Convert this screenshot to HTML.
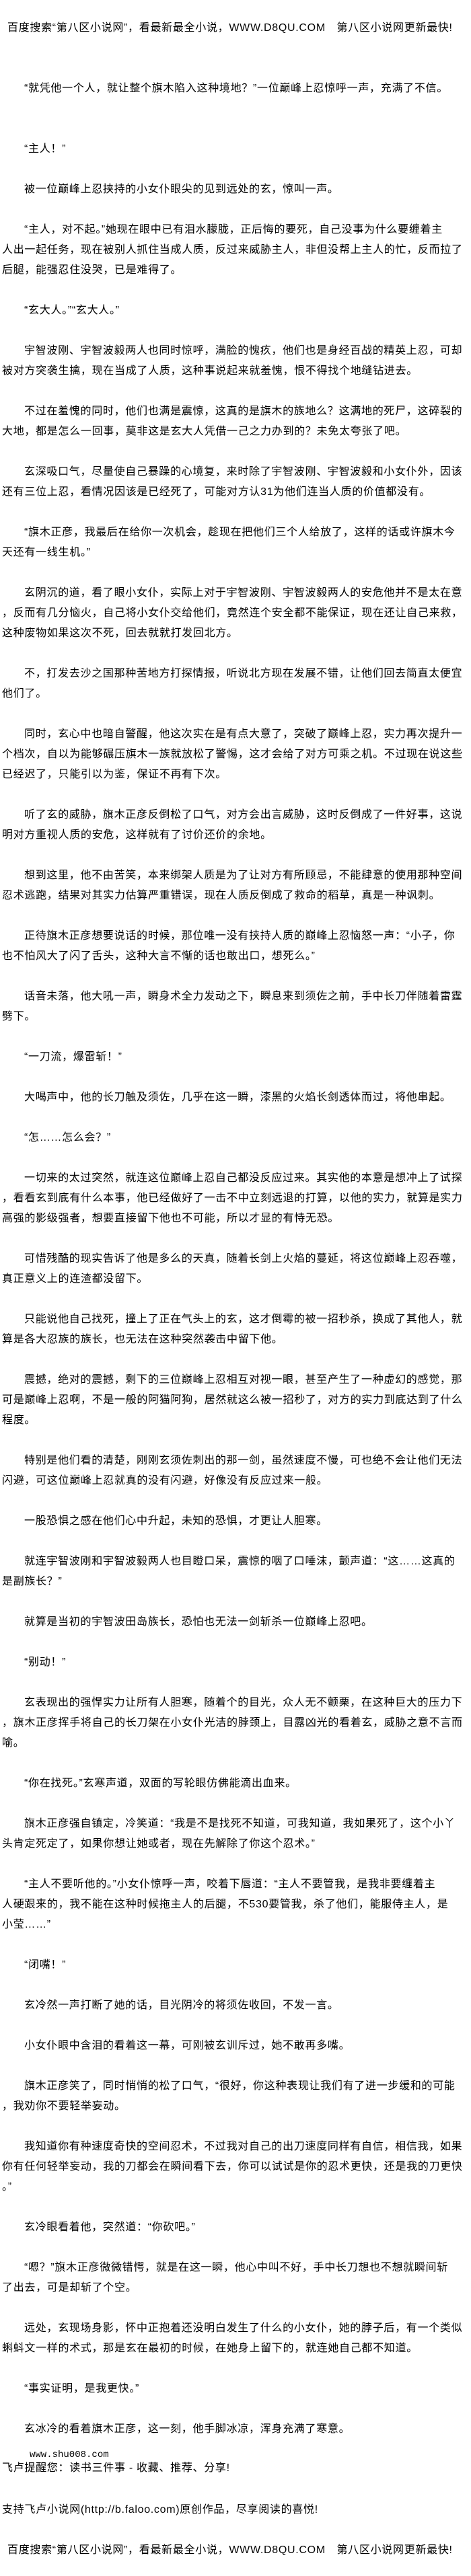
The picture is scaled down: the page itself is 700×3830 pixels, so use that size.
<!DOCTYPE html>
<html><head><meta charset="utf-8"><style>
html,body{margin:0;padding:0;background:#fff;}
body{width:700px;height:3830px;position:relative;overflow:hidden;font-family:"Liberation Sans","Noto Sans CJK SC",sans-serif;font-size:16px;letter-spacing:0.7px;color:#000;}
.l{position:absolute;left:3px;height:30px;line-height:30px;white-space:nowrap;}
.i{left:36px;}
</style></head><body>
<div class="l" style="left:11px;top:27px">百度搜索“第八区小说网”，看最新最全小说，WWW.D8QU.COM　第八区小说网更新最快!</div>
<div class="l i" style="top:117px">“就凭他一个人，就让整个旗木陷入这种境地？”一位巅峰上忍惊呼一声，充满了不信。</div>
<div class="l i" style="top:207px">“主人！”</div>
<div class="l i" style="top:267px">被一位巅峰上忍挟持的小女仆眼尖的见到远处的玄，惊叫一声。</div>
<div class="l i" style="top:327px">“主人，对不起。”她现在眼中已有泪水朦胧，正后悔的要死，自己没事为什么要缠着主</div>
<div class="l" style="top:357px">人出一起任务，现在被别人抓住当成人质，反过来威胁主人，非但没帮上主人的忙，反而拉了</div>
<div class="l" style="top:387px">后腿，能强忍住没哭，已是难得了。</div>
<div class="l i" style="top:447px">“玄大人。”“玄大人。”</div>
<div class="l i" style="top:507px">宇智波刚、宇智波毅两人也同时惊呼，满脸的愧疚，他们也是身经百战的精英上忍，可却</div>
<div class="l" style="top:537px">被对方突袭生擒，现在当成了人质，这种事说起来就羞愧，恨不得找个地缝钻进去。</div>
<div class="l i" style="top:597px">不过在羞愧的同时，他们也满是震惊，这真的是旗木的族地么？这满地的死尸，这碎裂的</div>
<div class="l" style="top:627px">大地，都是怎么一回事，莫非这是玄大人凭借一己之力办到的？未免太夸张了吧。</div>
<div class="l i" style="top:687px">玄深吸口气，尽量使自己暴躁的心境复，来时除了宇智波刚、宇智波毅和小女仆外，因该</div>
<div class="l" style="top:717px">还有三位上忍，看情况因该是已经死了，可能对方认31为他们连当人质的价值都没有。</div>
<div class="l i" style="top:777px">“旗木正彦，我最后在给你一次机会，趁现在把他们三个人给放了，这样的话或许旗木今</div>
<div class="l" style="top:807px">天还有一线生机。”</div>
<div class="l i" style="top:867px">玄阴沉的道，看了眼小女仆，实际上对于宇智波刚、宇智波毅两人的安危他并不是太在意</div>
<div class="l" style="top:897px">，反而有几分恼火，自己将小女仆交给他们，竟然连个安全都不能保证，现在还让自己来救，</div>
<div class="l" style="top:927px">这种废物如果这次不死，回去就就打发回北方。</div>
<div class="l i" style="top:987px">不，打发去沙之国那种苦地方打探情报，听说北方现在发展不错，让他们回去简直太便宜</div>
<div class="l" style="top:1017px">他们了。</div>
<div class="l i" style="top:1077px">同时，玄心中也暗自警醒，他这次实在是有点大意了，突破了巅峰上忍，实力再次提升一</div>
<div class="l" style="top:1107px">个档次，自以为能够碾压旗木一族就放松了警惕，这才会给了对方可乘之机。不过现在说这些</div>
<div class="l" style="top:1137px">已经迟了，只能引以为鉴，保证不再有下次。</div>
<div class="l i" style="top:1197px">听了玄的威胁，旗木正彦反倒松了口气，对方会出言威胁，这时反倒成了一件好事，这说</div>
<div class="l" style="top:1227px">明对方重视人质的安危，这样就有了讨价还价的余地。</div>
<div class="l i" style="top:1287px">想到这里，他不由苦笑，本来绑架人质是为了让对方有所顾忌，不能肆意的使用那种空间</div>
<div class="l" style="top:1317px">忍术逃跑，结果对其实力估算严重错误，现在人质反倒成了救命的稻草，真是一种讽刺。</div>
<div class="l i" style="top:1377px">正待旗木正彦想要说话的时候，那位唯一没有挟持人质的巅峰上忍恼怒一声：“小子，你</div>
<div class="l" style="top:1407px">也不怕风大了闪了舌头，这种大言不惭的话也敢出口，想死么。”</div>
<div class="l i" style="top:1467px">话音未落，他大吼一声，瞬身术全力发动之下，瞬息来到须佐之前，手中长刀伴随着雷霆</div>
<div class="l" style="top:1497px">劈下。</div>
<div class="l i" style="top:1557px">“一刀流，爆雷斩！”</div>
<div class="l i" style="top:1617px">大喝声中，他的长刀触及须佐，几乎在这一瞬，漆黑的火焰长剑透体而过，将他串起。</div>
<div class="l i" style="top:1677px">“怎……怎么会？”</div>
<div class="l i" style="top:1737px">一切来的太过突然，就连这位巅峰上忍自己都没反应过来。其实他的本意是想冲上了试探</div>
<div class="l" style="top:1767px">，看看玄到底有什么本事，他已经做好了一击不中立刻远退的打算，以他的实力，就算是实力</div>
<div class="l" style="top:1797px">高强的影级强者，想要直接留下他也不可能，所以才显的有恃无恐。</div>
<div class="l i" style="top:1857px">可惜残酷的现实告诉了他是多么的天真，随着长剑上火焰的蔓延，将这位巅峰上忍吞噬，</div>
<div class="l" style="top:1887px">真正意义上的连渣都没留下。</div>
<div class="l i" style="top:1947px">只能说他自己找死，撞上了正在气头上的玄，这才倒霉的被一招秒杀，换成了其他人，就</div>
<div class="l" style="top:1977px">算是各大忍族的族长，也无法在这种突然袭击中留下他。</div>
<div class="l i" style="top:2037px">震撼，绝对的震撼，剩下的三位巅峰上忍相互对视一眼，甚至产生了一种虚幻的感觉，那</div>
<div class="l" style="top:2067px">可是巅峰上忍啊，不是一般的阿猫阿狗，居然就这么被一招秒了，对方的实力到底达到了什么</div>
<div class="l" style="top:2097px">程度。</div>
<div class="l i" style="top:2157px">特别是他们看的清楚，刚刚玄须佐刺出的那一剑，虽然速度不慢，可也绝不会让他们无法</div>
<div class="l" style="top:2187px">闪避，可这位巅峰上忍就真的没有闪避，好像没有反应过来一般。</div>
<div class="l i" style="top:2247px">一股恐惧之感在他们心中升起，未知的恐惧，才更让人胆寒。</div>
<div class="l i" style="top:2307px">就连宇智波刚和宇智波毅两人也目瞪口呆，震惊的咽了口唾沫，颤声道：“这……这真的</div>
<div class="l" style="top:2337px">是副族长？”</div>
<div class="l i" style="top:2397px">就算是当初的宇智波田岛族长，恐怕也无法一剑斩杀一位巅峰上忍吧。</div>
<div class="l i" style="top:2457px">“别动！”</div>
<div class="l i" style="top:2517px">玄表现出的强悍实力让所有人胆寒，随着个的目光，众人无不颤栗，在这种巨大的压力下</div>
<div class="l" style="top:2547px">，旗木正彦挥手将自己的长刀架在小女仆光洁的脖颈上，目露凶光的看着玄，威胁之意不言而</div>
<div class="l" style="top:2577px">喻。</div>
<div class="l i" style="top:2637px">“你在找死。”玄寒声道，双面的写轮眼仿佛能滴出血来。</div>
<div class="l i" style="top:2697px">旗木正彦强自镇定，冷笑道：“我是不是找死不知道，可我知道，我如果死了，这个小丫</div>
<div class="l" style="top:2727px">头肯定死定了，如果你想让她或者，现在先解除了你这个忍术。”</div>
<div class="l i" style="top:2787px">“主人不要听他的。”小女仆惊呼一声，咬着下唇道：“主人不要管我，是我非要缠着主</div>
<div class="l" style="top:2817px">人硬跟来的，我不能在这种时候拖主人的后腿，不530要管我，杀了他们，能服侍主人，是</div>
<div class="l" style="top:2847px">小莹……”</div>
<div class="l i" style="top:2907px">“闭嘴！”</div>
<div class="l i" style="top:2967px">玄冷然一声打断了她的话，目光阴冷的将须佐收回，不发一言。</div>
<div class="l i" style="top:3027px">小女仆眼中含泪的看着这一幕，可刚被玄训斥过，她不敢再多嘴。</div>
<div class="l i" style="top:3087px">旗木正彦笑了，同时悄悄的松了口气，“很好，你这种表现让我们有了进一步缓和的可能</div>
<div class="l" style="top:3117px">，我劝你不要轻举妄动。</div>
<div class="l i" style="top:3177px">我知道你有种速度奇快的空间忍术，不过我对自己的出刀速度同样有自信，相信我，如果</div>
<div class="l" style="top:3207px">你有任何轻举妄动，我的刀都会在瞬间看下去，你可以试试是你的忍术更快，还是我的刀更快</div>
<div class="l" style="top:3237px">。”</div>
<div class="l i" style="top:3297px">玄冷眼看着他，突然道：“你砍吧。”</div>
<div class="l i" style="top:3357px">“嗯？”旗木正彦微微错愕，就是在这一瞬，他心中叫不好，手中长刀想也不想就瞬间斩</div>
<div class="l" style="top:3387px">了出去，可是却斩了个空。</div>
<div class="l i" style="top:3447px">远处，玄现场身影，怀中正抱着还没明白发生了什么的小女仆，她的脖子后，有一个类似</div>
<div class="l" style="top:3477px">蝌蚪文一样的术式，那是玄在最初的时候，在她身上留下的，就连她自己都不知道。</div>
<div class="l i" style="top:3537px">“事实证明，是我更快。”</div>
<div class="l i" style="top:3597px">玄冰冷的看着旗木正彦，这一刻，他手脚冰凉，浑身充满了寒意。</div>
<div class="l" style="left:44px;top:3639px;height:22px;line-height:22px;font-family:'Liberation Mono',monospace;font-size:14px;letter-spacing:0">www.shu008.com</div>
<div class="l" style="top:3655px">飞卢提醒您：读书三件事 - 收藏、推荐、分享!</div>
<div class="l" style="top:3717px">支持飞卢小说网(http://b.faloo.com)原创作品，尽享阅读的喜悦!</div>
<div class="l" style="left:11px;top:3777px">百度搜索“第八区小说网”，看最新最全小说，WWW.D8QU.COM　第八区小说网更新最快!</div>
</body></html>
